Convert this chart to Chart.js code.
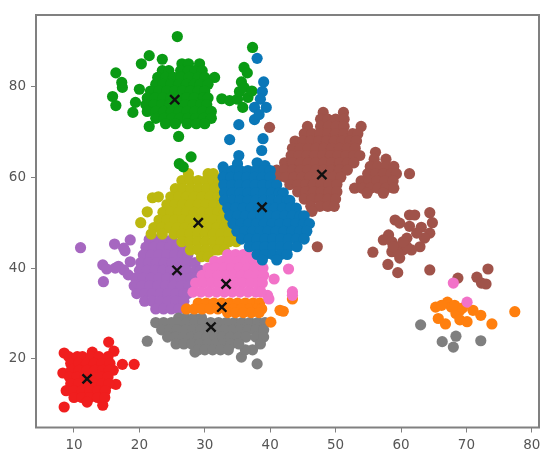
<!DOCTYPE html>
<html>
<head>
<meta charset="utf-8">
<style>
  html, body { margin: 0; padding: 0; background: #fff; }
  canvas { display: block; filter: blur(0.7px); }
</style>
<script src="https://cdn.jsdelivr.net/npm/chart.js@4"></script>
</head>
<body>
<canvas id="chartCanvas" width="550" height="466"></canvas>
<script>
const xTicks = [10, 20, 30, 40, 50, 60, 70, 80];
const yTicks = [20, 40, 60, 80];

const centroids = [[25.4,77.1],[38.75,53.4],[47.9,60.6],[29,50],[25.75,39.5],[33.25,36.5],[32.6,31.4],[30.95,27],[12,15.6]];

const green = [
  [25.8,91],[21.5,86.8],[20.3,85],[23.5,86],[16.4,83],[17.3,80.9],[17.4,79.8],[15.9,77.8],[16.4,75.8],[19,74.3],[19.4,76.5],[20,79.4],[21.5,71.2],[26,69],[27.9,64.5],[26.1,63],[26.7,62.3],
  [37.3,88.6],[36,84.2],[36.5,83],[35.6,81],[32.6,77.3],[33.8,76.9],[35,77.2],[35.8,75.4],[35.3,78.9],[36.6,77.6],[36,79.8],[37.2,79],
  [26.5,85],[27.5,85],[29.2,85],
  [23.5,83.5],[24.5,83.5],[26.3,83.5],[27.5,83.5],[28.5,83.5],[29.6,83.5],
  [22.8,82],[24,82],[25.2,82],[26.4,82],[27.6,82],[29,82],[30,82],[31.5,82],
  [22.5,80.5],[23.6,80.5],[24.8,80.5],[26,80.5],[27.2,80.5],[28.4,80.5],[29.3,80.5],[30.5,80.5],
  [21.7,79],[23,79],[24.2,79],[25.4,79],[26.6,79],[27.8,79],[29,79],[30,79],
  [21.2,77.5],[22.4,77.5],[23.6,77.5],[24.8,77.5],[26,77.5],[27.2,77.5],[28.4,77.5],[29.8,77.5],[30.5,77.5],
  [21,76],[22.2,76],[23.4,76],[24.6,76],[25.8,76],[27,76],[28.2,76],[29.4,76],[30.3,76],
  [21.2,74.5],[22.5,74.5],[23.7,74.5],[24.9,74.5],[26.1,74.5],[27.3,74.5],[28.5,74.5],[29.7,74.5],[31,74.5],
  [22.5,73],[23.8,73],[25,73],[26.2,73],[27.4,73],[28.6,73],[29.8,73],[31,73],
  [24,71.8],[25.5,71.8],[27.3,71.8],[28.7,71.8],[30,71.8]
];

const red = [
  [15.3,23.7],[16.1,21.7],[17.4,18.8],[19.2,18.8],[16,17.5],[16.4,14.4],[14.4,9.8],[8.5,9.4],[8.3,16.9],[8.5,21.3],[12.8,21.5],
  [9.2,20.5],[10.5,20.5],[11.3,20.5],[12.6,20.5],[13.8,20.5],[15.2,20.5],
  [9.5,19],[10.7,19],[11.9,19],[13.1,19],[14.3,19],[15.5,19],
  [9.6,17.5],[10.8,17.5],[12,17.5],[13.2,17.5],[14.4,17.5],[15.4,17.5],
  [9.3,16],[10.5,16],[11.7,16],[12.9,16],[14.1,16],[15.2,16],
  [9.5,14.5],[10.7,14.5],[11.9,14.5],[13.1,14.5],[14.3,14.5],[15.3,14.5],
  [8.8,13],[10,13],[11.2,13],[12.4,13],[13.6,13],[14.8,13],
  [10,11.5],[11.2,11.5],[12.4,11.5],[13.6,11.5],[14.7,11.5],
  [12,10.5]
];

const olive = [
  [22,55.5],[22.9,55.7],[21.2,52.4],[20.2,50],
  [27.5,60.8],[30.5,60.8],[31.3,60.8],
  [26.5,59.3],[27.8,59.3],[29,59.3],[30.2,59.3],[31.3,59.3],[32.2,59.3],
  [25.5,57.5],[26.7,57.5],[27.9,57.5],[29.1,57.5],[30.3,57.5],[31.5,57.5],[32.5,57.5],
  [24.8,55.7],[26,55.7],[27.2,55.7],[28.4,55.7],[29.6,55.7],[30.8,55.7],[32,55.7],[32.6,55.7],
  [24.2,54],[25.4,54],[26.6,54],[27.8,54],[29,54],[30.2,54],[31.4,54],[32.6,54],
  [23.6,52.3],[24.8,52.3],[26,52.3],[27.2,52.3],[28.4,52.3],[29.6,52.3],[30.8,52.3],[32,52.3],[33,52.3],
  [23,50.6],[24.2,50.6],[25.4,50.6],[26.6,50.6],[27.8,50.6],[29,50.6],[30.2,50.6],[31.4,50.6],[32.6,50.6],[33.4,50.6],
  [22.2,48.9],[23.4,48.9],[24.6,48.9],[25.8,48.9],[27,48.9],[28.2,48.9],[29.4,48.9],[30.6,48.9],[31.8,48.9],[33,48.9],[34.2,48.9],
  [21.8,47.5],[23.5,47.5],[25.3,47.5],[26.5,47.5],[27.7,47.5],[28.9,47.5],[30.1,47.5],[31.3,47.5],[32.5,47.5],[33.7,47.5],[34.9,47.5],
  [26.5,45.8],[27.7,45.8],[28.9,45.8],[30.1,45.8],[31.3,45.8],[32.5,45.8],[33.7,45.8],[34.8,45.8],
  [27.8,44],[29,44],[30.2,44],[31.4,44],[32,44],[33,44],
  [29.5,42.5],[30.5,42.5]
];

const purple = [
  [11,44.5],[18.6,46.2],[16.2,45.3],[17.6,44.4],[17.8,43.8],[14.4,40.7],[15,39.8],[14.5,37],[16.8,40.4],[18.6,41.4],[17.6,39.6],[18.3,38.5],[16.3,40],
  [21.5,46.3],[22.5,46.3],[23.7,46.3],[25,46.3],
  [21,44.6],[22.2,44.6],[23.4,44.6],[24.6,44.6],[25.8,44.6],[26.6,44.6],
  [20.6,42.9],[21.8,42.9],[23,42.9],[24.2,42.9],[25.4,42.9],[26.6,42.9],[27.4,42.9],
  [20.2,41.2],[21.4,41.2],[22.6,41.2],[23.8,41.2],[25,41.2],[26.2,41.2],[27.4,41.2],[28.5,41.2],
  [20,39.5],[21.2,39.5],[22.4,39.5],[23.6,39.5],[24.8,39.5],[26,39.5],[27.2,39.5],[28.6,39.5],[29.3,39.5],
  [19.4,37.8],[20.6,37.8],[21.8,37.8],[23,37.8],[24.2,37.8],[25.4,37.8],[26.6,37.8],[27.8,37.8],[28.6,37.8],
  [19.2,36.1],[20.4,36.1],[21.6,36.1],[22.8,36.1],[24,36.1],[25.2,36.1],[26.4,36.1],[27.6,36.1],
  [19.6,34.4],[20.8,34.4],[22,34.4],[23.2,34.4],[24.4,34.4],[25.6,34.4],[26.8,34.4],[27.4,34.4],
  [20.8,32.7],[22,32.7],[23.2,32.7],[24.4,32.7],[25.6,32.7],[26.8,32.7],
  [22.5,31],[23.7,31],[24.9,31],[26,31]
];

const pink = [
  [42.8,39.8],[40.6,37.6],[43.4,34],[39.6,34],[39.8,33.2],[43.4,34.8],[68,36.7],[70.1,32.5],
  [33.5,43],[34.7,43],[35.9,43],[37,43],
  [31.5,41.5],[32.7,41.5],[33.9,41.5],[35.1,41.5],[36.3,41.5],[37.5,41.5],[38.4,41.5],
  [30.5,40],[31.7,40],[32.9,40],[34.1,40],[35.3,40],[36.5,40],[37.7,40],[38.9,40],
  [29.6,38.4],[30.8,38.4],[32,38.4],[33.2,38.4],[34.4,38.4],[35.6,38.4],[36.8,38.4],[38,38.4],[39,38.4],
  [28.6,36.7],[29.8,36.7],[31,36.7],[32.2,36.7],[33.4,36.7],[34.6,36.7],[35.8,36.7],[37,36.7],[38.2,36.7],[38.8,36.7],
  [28.2,34.7],[29.4,34.7],[30.6,34.7],[31.8,34.7],[33,34.7],[34.2,34.7],[35.4,34.7],[36.6,34.7],[37.8,34.7],[38.6,34.7]
];

const orange = [
  [29,32.3],[30.2,32.3],[31.4,32.3],[32.6,32.3],[33.8,32.3],[35,32.3],[36.2,32.3],[37.4,32.3],[38.4,32.3],
  [27.2,31],[28.4,31],[29.6,31],[30.8,31],[32,31],[33.2,31],[34.4,31],[35.6,31],[36.8,31],[38,31],[38.7,31],
  [33.5,30.2],[34.7,30.2],[35.9,30.2],[37.1,30.2],[38.3,30.2],
  [40.1,28.1],[41.5,30.7],[42,30.5],[43.4,33.2],
  [65.3,31.4],[67.1,32.5],[65.7,28.9],[66.8,27.7],[67.7,31.4],[69,30.7],[68.4,30],[69,28.6],[70.1,28.2],[71,30.7],[72.2,29.6],[73.9,27.7],[77.4,30.4],[66.2,31.8],[68.2,31.8],[69.4,31.2]
];

const gray = [
  [21.2,23.9],[38,18.9],[35.6,20.4],[37.3,22],[36.2,22],[28.5,21.5],[63,27.5],[68.4,25],[66.3,23.8],[68,22.6],[72.2,24],
  [26,29],[27,29],[28.3,29],[29.5,29],
  [22.5,28],[23.7,28],[24.9,28],[26.1,28],[27.3,28],[28.5,28],[29.7,28],[30.9,28],[32.1,28],[33.3,28],[34.5,28],[35.7,28],[36.9,28],[38.1,28],[39.2,28],
  [23.4,26.4],[24.6,26.4],[25.8,26.4],[27,26.4],[28.2,26.4],[29.4,26.4],[30.6,26.4],[31.8,26.4],[33,26.4],[34.2,26.4],[35.4,26.4],[36.6,26.4],[37.8,26.4],[39,26.4],
  [24.3,24.8],[25.5,24.8],[26.7,24.8],[27.9,24.8],[29.1,24.8],[30.3,24.8],[31.5,24.8],[32.7,24.8],[33.9,24.8],[35.1,24.8],[36.3,24.8],[37.8,24.8],[39,24.8],
  [25.6,23.3],[26.8,23.3],[28,23.3],[29.2,23.3],[30.4,23.3],[31.6,23.3],[32.8,23.3],[34,23.3],[35.2,23.3],[38.5,23.3],
  [29,22],[30,22],[31.2,22],[32.4,22],[33.6,22]
];

const brown = [
  [61.3,60.8],[39.9,71],[47.2,44.7],
  [48.1,74.3],[51.2,74.3],
  [47.7,72.8],[48.8,72.8],[50,72.8],[51.3,72.8],
  [45.7,71.2],[47.7,71.2],[48.9,71.2],[50.1,71.2],[51.3,71.2],[53.9,71.2],
  [45.2,69.6],[46.4,69.6],[47.6,69.6],[48.8,69.6],[50,69.6],[51.2,69.6],[52.6,69.6],[53.4,69.6],
  [43.8,68],[45,68],[46.2,68],[47.4,68],[48.6,68],[49.8,68],[51,68],[52.2,68],[53.2,68],
  [43.4,66.4],[44.6,66.4],[45.8,66.4],[47,66.4],[48.2,66.4],[49.4,66.4],[50.6,66.4],[51.8,66.4],[53,66.4],
  [43.2,64.8],[44.4,64.8],[45.6,64.8],[46.8,64.8],[48,64.8],[49.2,64.8],[50.4,64.8],[51.6,64.8],[52.8,64.8],[53.7,64.8],
  [42.2,63.2],[43.4,63.2],[44.6,63.2],[45.8,63.2],[47,63.2],[48.2,63.2],[49.4,63.2],[50.6,63.2],[51.8,63.2],[52.8,63.2],
  [41,61.6],[42.2,61.6],[43.4,61.6],[44.6,61.6],[45.8,61.6],[47,61.6],[48.2,61.6],[49.4,61.6],[50.6,61.6],[51.8,61.6],
  [41.2,60],[42.4,60],[43.6,60],[44.8,60],[46,60],[47.2,60],[48.4,60],[49.6,60],[50.8,60],
  [43,58.4],[44.2,58.4],[45.4,58.4],[46.6,58.4],[47.8,58.4],[49,58.4],[50.2,58.4],
  [44.2,56.8],[45.4,56.8],[46.6,56.8],[47.8,56.8],[49,56.8],[50.2,56.8],
  [45.2,55.2],[46.4,55.2],[47.6,55.2],[48.8,55.2],[50,55.2],
  [46.2,53.6],[47.6,53.6],[48.8,53.6],[49.8,53.6],[46.4,52.5],
  [56.1,65.5],[55.9,64],[57.7,64],
  [55.3,62.4],[56.5,62.4],[57.7,62.4],[58.9,62.4],
  [54.9,60.8],[56.1,60.8],[57.3,60.8],[58.5,60.8],[59.3,60.8],
  [53.9,59.2],[55.1,59.2],[56.3,59.2],[57.5,59.2],[58.8,59.2],
  [52.9,57.6],[54.1,57.6],[55.3,57.6],[56.5,57.6],[57.7,57.6],[58.9,57.6],
  [54.8,56.5],[57.3,56.5],
  [59.1,50.6],[59.8,49.9],[61.3,51.7],[62.1,51.7],[64.4,52.2],[64.8,50],[63.1,49],[61.3,49.2],[64.4,47.7],[63.6,46.6],[62.9,44.7],[61.6,44],[60.9,46.6],[62.4,47.7],
  [58.1,47.3],[57.3,46.2],[58.6,45.8],[59.3,44.7],[58.6,43.6],[59.8,42.2],[60.3,44],[59.6,43.3],[60.9,44.7],[55.7,43.5],[58,40.8],[59.5,39],[64.4,39.6],
  [68.7,37.8],[71.6,38],[73.3,39.8],[72.3,36.7],[73,36.5],[60.3,45.8],[58.8,44.7]
];

const blue = [
  [38,86.2],[39,81],[38.8,78.9],[38.5,77.2],[39.4,75.4],[37.6,75.4],[37.6,72.7],[38.3,73.8],[35.2,71.6],[33.8,68.3],[38.9,68.5],[38.7,65.9],[35.2,64.8],[32.8,62.3],[38,63.2],[35,63],[39.2,62.6],
  [33,61.5],[34.2,61.5],[35.4,61.5],[36.6,61.5],[37.8,61.5],[39,61.5],[40,61.5],
  [32.8,60],[34,60],[35.2,60],[36.4,60],[37.6,60],[38.8,60],[40,60],
  [32.9,58.3],[34.1,58.3],[35.3,58.3],[36.5,58.3],[37.7,58.3],[38.9,58.3],[40.1,58.3],[41,58.3],
  [33,56.6],[34.2,56.6],[35.4,56.6],[36.6,56.6],[37.8,56.6],[39,56.6],[40.2,56.6],[41.4,56.6],[42,56.6],
  [33,54.9],[34.2,54.9],[35.4,54.9],[36.6,54.9],[37.8,54.9],[39,54.9],[40.2,54.9],[41.4,54.9],[42.6,54.9],[43,54.9],
  [33.5,53.2],[34.7,53.2],[35.9,53.2],[37.1,53.2],[38.3,53.2],[39.5,53.2],[40.7,53.2],[41.9,53.2],[43.1,53.2],[44,53.2],
  [33.8,51.5],[35,51.5],[36.2,51.5],[37.4,51.5],[38.6,51.5],[39.8,51.5],[41,51.5],[42.2,51.5],[43.4,51.5],[44.6,51.5],[45.2,51.5],
  [34.3,49.8],[35.5,49.8],[36.7,49.8],[37.9,49.8],[39.1,49.8],[40.3,49.8],[41.5,49.8],[42.7,49.8],[43.9,49.8],[45.1,49.8],[46,49.8],
  [34.9,48.1],[36.1,48.1],[37.3,48.1],[38.5,48.1],[39.7,48.1],[40.9,48.1],[42.1,48.1],[43.3,48.1],[44.5,48.1],[45.6,48.1],
  [35.6,46.4],[36.8,46.4],[38,46.4],[39.2,46.4],[40.4,46.4],[41.6,46.4],[42.8,46.4],[44,46.4],[45.2,46.4],
  [36.8,44.7],[38,44.7],[39.2,44.7],[40.4,44.7],[41.6,44.7],[42.8,44.7],[44.1,44.7],
  [38,43],[39.2,43],[40.4,43],[41.6,43],[42.6,43],
  [38.8,41.8],[41,41.8]
];

function toPoints(list) {
    return list.map(p => ({ x: p[0], y: p[1] }));
}

function cluster(list, color) {
    return {
        data: toPoints(list),
        pointBackgroundColor: color,
        pointBorderColor: color,
        pointBorderWidth: 0,
        pointRadius: 5.6,
        pointHoverRadius: 5.6
    };
}

// axes frame, the top and right sides have no scale of their own
const framePlugin = {
    id: "frame",
    afterDraw(chart) {
        const a = chart.chartArea;
        const ctx = chart.ctx;
        ctx.save();
        ctx.strokeStyle = "#808080";
        ctx.lineWidth = 2;
        ctx.strokeRect(a.left, a.top, a.right - a.left, a.bottom - a.top);
        ctx.restore();
    }
};

const tickFont = { family: "'DejaVu Sans'", size: 13.5 };

new Chart(document.getElementById("chartCanvas"), {
    type: "scatter",
    data: {
        datasets: [
            {
                data: toPoints(centroids),
                pointStyle: "crossRot",
                pointRadius: 6.5,
                pointBorderColor: "#111",
                pointBorderWidth: 2.4
            },
            cluster(blue, "#0a77b8"),
            cluster(pink, "#f272c8"),
            cluster(green, "#0a9a14"),
            cluster(orange, "#ff7f0e"),
            cluster(gray, "#7f7f7f"),
            cluster(olive, "#bcb80f"),
            cluster(purple, "#a667c0"),
            cluster(brown, "#a0534a"),
            cluster(red, "#f01e1e")
        ]
    },
    options: {
        responsive: false,
        animation: false,
        layout: { padding: { left: 0, top: 15, right: 11, bottom: 0 } },
        plugins: {
            legend: { display: false },
            tooltip: { enabled: false }
        },
        scales: {
            x: {
                type: "linear",
                min: 4.19,
                max: 81.1,
                afterBuildTicks(scale) { scale.ticks = xTicks.map(v => ({ value: v })); },
                afterFit(scale) { scale.height = 38.5; },
                grid: { drawOnChartArea: false, color: "#808080", tickLength: 5 },
                border: { color: "#808080" },
                ticks: { color: "#555", font: tickFont, maxRotation: 0, padding: 5 }
            },
            y: {
                type: "linear",
                min: 4.89,
                max: 95.75,
                afterBuildTicks(scale) { scale.ticks = yTicks.map(v => ({ value: v })); },
                afterFit(scale) { scale.width = 36; },
                grid: { drawOnChartArea: false, color: "#808080", tickLength: 5 },
                border: { color: "#808080" },
                ticks: { color: "#555", font: tickFont, padding: 5 }
            }
        }
    },
    plugins: [framePlugin]
});
</script>
</body>
</html>
